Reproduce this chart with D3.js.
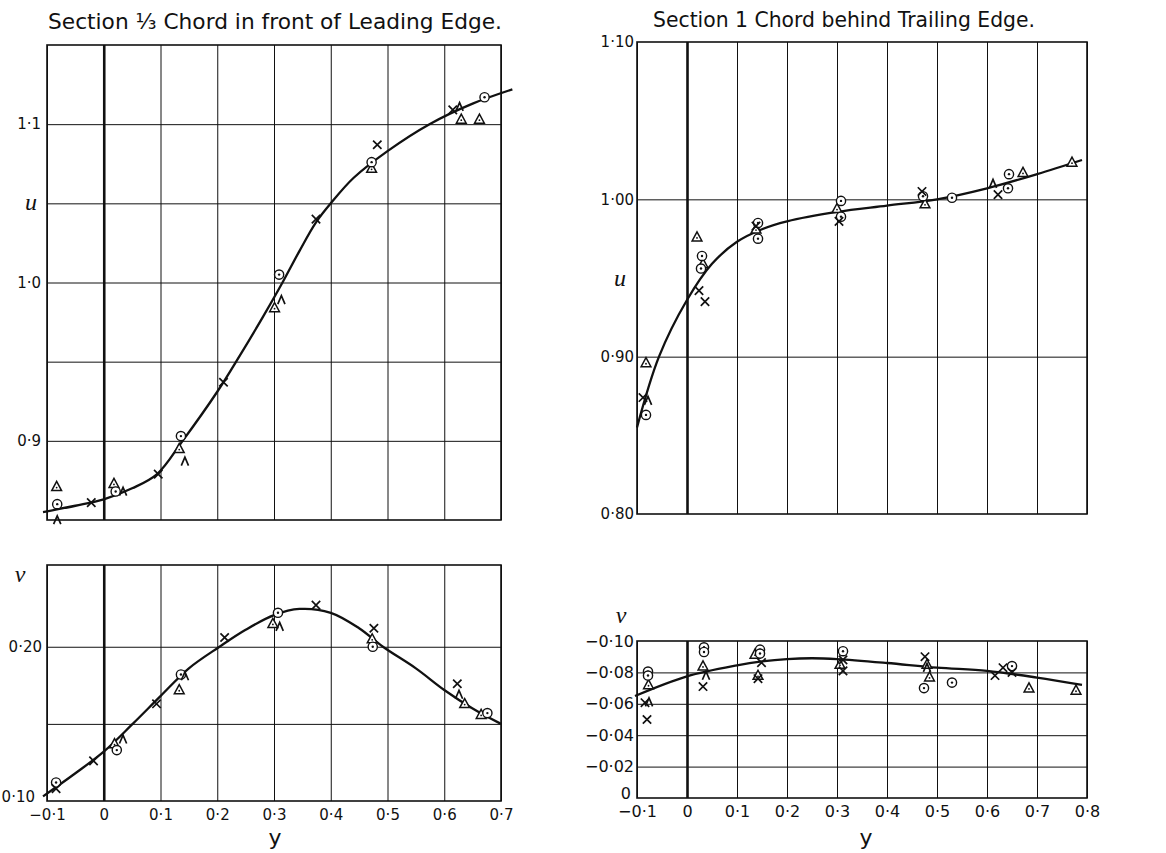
<!DOCTYPE html>
<html>
<head>
<meta charset="utf-8">
<script src="https://cdn.jsdelivr.net/npm/d3@7"></script>
<style>
body { margin: 0; background: #fff; }
svg { display: block; }
text { font-family: "DejaVu Sans", sans-serif; fill: #111; }
</style>
</head>
<body>
<div id="chart"></div>
<script>
// ---- data ----
const xTicksLeft = [-0.1, 0, 0.1, 0.2, 0.3, 0.4, 0.5, 0.6, 0.7];
const xTicksRight = [-0.1, 0, 0.1, 0.2, 0.3, 0.4, 0.5, 0.6, 0.7, 0.8];

// left: 1/3 chord in front of leading edge, u
const luTickLabels = [0.9, 1.0, 1.1];
const luGrid = [0.9, 0.95, 1.0, 1.05, 1.1];
const luCurve = [[-0.107,0.855],[-0.05,0.859],[0,0.863],[0.05,0.870],[0.094,0.879],[0.139,0.900],[0.2,0.931],[0.24,0.954],[0.28,0.978],[0.315,1.0],[0.345,1.02],[0.374,1.038],[0.4,1.05],[0.44,1.066],[0.5,1.083],[0.574,1.10],[0.65,1.113],[0.72,1.122]];
const luCircle = [[-0.082,0.860],[0.021,0.868],[0.136,0.903],[0.309,1.005],[0.472,1.076],[0.671,1.117]];
const luTri = [[-0.083,0.871],[0.018,0.873],[0.133,0.895],[0.301,0.984],[0.472,1.072],[0.630,1.103],[0.662,1.103]];
const luCross = [[-0.022,0.861],[0.096,0.879],[0.211,0.937],[0.374,1.040],[0.482,1.087],[0.615,1.109]];
const luCaret = [[-0.082,0.850],[0.034,0.868],[0.143,0.887],[0.313,0.989],[0.627,1.111]];

// left: v
const lvTickLabels = [0.10, 0.20];
const lvGrid = [0.15, 0.20];
const lvCurve = [[-0.107,0.103],[-0.05,0.118],[0,0.132],[0.051,0.150],[0.1,0.168],[0.15,0.186],[0.204,0.200],[0.25,0.211],[0.3,0.2205],[0.345,0.2245],[0.4,0.222],[0.45,0.212],[0.492,0.200],[0.55,0.186],[0.6,0.172],[0.65,0.160],[0.70,0.150]];
const lvCircle = [[-0.084,0.112],[0.023,0.133],[0.136,0.182],[0.307,0.222],[0.474,0.200],[0.676,0.157]];
const lvTri = [[0.019,0.137],[0.133,0.172],[0.298,0.215],[0.473,0.205],[0.636,0.163],[0.665,0.156]];
const lvCross = [[-0.084,0.108],[-0.018,0.126],[0.093,0.163],[0.213,0.206],[0.374,0.227],[0.476,0.212],[0.623,0.176]];
const lvCaret = [[0.034,0.140],[0.143,0.181],[0.310,0.213],[0.626,0.169]];

// right: 1 chord behind trailing edge, u
const ruTickLabels = [0.8, 0.9, 1.0, 1.1];
const ruGrid = [0.9, 1.0];
const ruCurve = [[-0.1,0.855],[-0.056,0.900],[0,0.936],[0.05,0.959],[0.1,0.973],[0.15,0.981],[0.2,0.986],[0.3,0.992],[0.4,0.996],[0.5,1.0],[0.6,1.007],[0.7,1.016],[0.79,1.025]];
const ruCircle = [[0.030,0.964],[0.028,0.956],[-0.082,0.863],[0.142,0.985],[0.142,0.975],[0.308,0.999],[0.308,0.989],[0.472,1.002],[0.53,1.001],[0.644,1.016],[0.642,1.007]];
const ruTri = [[0.020,0.976],[0.032,0.959],[-0.082,0.896],[0.138,0.981],[0.300,0.994],[0.476,0.997],[0.672,1.017],[0.770,1.0235]];
const ruCross = [[0.024,0.942],[0.036,0.935],[-0.088,0.874],[0.138,0.983],[0.304,0.986],[0.47,1.005],[0.622,1.003]];
const ruCaret = [[-0.078,0.872],[0.612,1.010]];

// right: v (negative)
const rvTickLabels = [0, -0.02, -0.04, -0.06, -0.08, -0.10];
const rvGrid = [-0.02, -0.04, -0.06, -0.08];
const rvCurve = [[-0.104,-0.065],[0,-0.0775],[0.1,-0.0845],[0.15,-0.0870],[0.2,-0.0885],[0.25,-0.089],[0.3,-0.0885],[0.4,-0.086],[0.5,-0.083],[0.6,-0.081],[0.7,-0.0767],[0.79,-0.072]];
const rvCircle = [[-0.078,-0.0805],[-0.078,-0.078],[0.034,-0.096],[0.034,-0.093],[0.146,-0.0945],[0.146,-0.092],[0.312,-0.0935],[0.474,-0.070],[0.53,-0.0735],[0.65,-0.084]];
const rvTri = [[-0.077,-0.072],[0.032,-0.084],[0.136,-0.0915],[0.142,-0.078],[0.306,-0.085],[0.48,-0.085],[0.485,-0.077],[0.684,-0.070],[0.778,-0.0685]];
const rvCross = [[-0.084,-0.0607],[-0.08,-0.050],[0.032,-0.071],[0.149,-0.0862],[0.142,-0.076],[0.312,-0.088],[0.312,-0.081],[0.476,-0.090],[0.616,-0.078],[0.632,-0.083],[0.65,-0.080]];
const rvCaret = [[-0.076,-0.061],[0.038,-0.078],[0.48,-0.083]];

const width = 1166, height = 853;
const ink = "#111";

const svg = d3.select("#chart").append("svg")
    .attr("width", width)
    .attr("height", height);

function fmt(digits) {
    return d => {
        if (d === 0) return "0";
        const s = Math.abs(d).toFixed(digits).replace(".", "·");
        return (d < 0 ? "−" : "") + s;
    };
}

function drawMarkers(g, pts, type, x, y) {
    const m = g.selectAll(null)
        .data(pts)
        .enter().append("g")
        .attr("transform", d => `translate(${x(d[0])},${y(d[1])})`);
    if (type === "circle") {
        m.append("circle").attr("r", 4.6)
            .attr("fill", "#fff").attr("stroke", ink).attr("stroke-width", 1.4);
        m.append("circle").attr("r", 1.2).attr("fill", ink);
    } else if (type === "tri") {
        m.append("path").attr("d", "M0,-5.3L4.9,3.8L-4.9,3.8Z")
            .attr("fill", "#fff").attr("stroke", ink).attr("stroke-width", 1.5);
        m.append("circle").attr("r", 0.9).attr("cy", 0.8).attr("fill", ink);
    } else if (type === "cross") {
        m.append("path").attr("d", "M-4.2,-4.2L4.2,4.2M4.2,-4.2L-4.2,4.2")
            .attr("stroke", ink).attr("stroke-width", 1.7);
    } else {
        m.append("path").attr("d", "M-3.6,4.2L0,-4.2L3.6,4.2")
            .attr("fill", "none").attr("stroke", ink).attr("stroke-width", 1.7);
    }
}

function panel(cfg) {
    const x = d3.scaleLinear().domain(cfg.xDomain).range([cfg.left, cfg.right]);
    const y = d3.scaleLinear().domain(cfg.yDomain).range([cfg.bottom, cfg.top]);
    const h = cfg.bottom - cfg.top, w = cfg.right - cfg.left;
    const g = svg.append("g");

    // vertical grid
    g.append("g")
        .attr("transform", `translate(0,${cfg.bottom})`)
        .call(d3.axisBottom(x).tickValues(cfg.xTicks).tickSize(-h).tickFormat(""))
        .call(a => a.select(".domain").remove())
        .call(a => a.selectAll("line")
            .attr("stroke", ink)
            .attr("stroke-width", d => d === 0 ? 2.6 : 1));

    // horizontal grid
    g.append("g")
        .attr("transform", `translate(${cfg.left},0)`)
        .call(d3.axisLeft(y).tickValues(cfg.grid).tickSize(-w).tickFormat(""))
        .call(a => a.select(".domain").remove())
        .call(a => a.selectAll("line").attr("stroke", ink).attr("stroke-width", 1));

    g.append("rect")
        .attr("x", cfg.left).attr("y", cfg.top)
        .attr("width", w).attr("height", h)
        .attr("fill", "none").attr("stroke", ink).attr("stroke-width", 1.6);

    // tick labels
    if (cfg.xLabels) {
        g.append("g")
            .attr("transform", `translate(0,${cfg.bottom})`)
            .call(d3.axisBottom(x).tickValues(cfg.xTicks).tickSize(0).tickPadding(8).tickFormat(fmt(1)))
            .call(a => a.select(".domain").remove())
            .call(a => a.selectAll("text")
                .style("font-size", cfg.fontSize + "px"));
    }
    g.append("g")
        .attr("transform", `translate(${cfg.left},0)`)
        .call(d3.axisLeft(y).tickValues(cfg.yTicks).tickSize(0).tickPadding(cfg.yPad).tickFormat(fmt(cfg.yDigits)))
        .call(a => a.select(".domain").remove())
        .call(a => a.selectAll("text")
            .style("font-size", cfg.fontSize + "px")
            // lowest label sits a little high so it clears the x labels
            .attr("dy", d => (cfg.xLabels && d === cfg.yDomain[0]) ? "0.05em" : "0.32em")
            .attr("x", d => (cfg.xLabels && d === cfg.yDomain[0]) ? -cfg.yPad - cfg.lowShift : -cfg.yPad));

    // fitted curve
    const line = d3.line()
        .x(d => x(d[0]))
        .y(d => y(d[1]))
        .curve(d3.curveCatmullRom.alpha(0.5));
    g.append("path")
        .datum(cfg.curve)
        .attr("d", line)
        .attr("fill", "none")
        .attr("stroke", ink)
        .attr("stroke-width", 2.3);

    drawMarkers(g, cfg.tri, "tri", x, y);
    drawMarkers(g, cfg.circle, "circle", x, y);
    drawMarkers(g, cfg.cross, "cross", x, y);
    drawMarkers(g, cfg.caret, "caret", x, y);

    // variable label
    g.append("text")
        .attr("x", cfg.varX).attr("y", cfg.varY)
        .attr("text-anchor", "middle")
        .style("font-family", "'Liberation Serif', serif")
        .style("font-style", "italic")
        .style("font-size", "24px")
        .text(cfg.varName);

    return { x, y };
}

panel({
    left: 47, right: 501, top: 45, bottom: 520,
    xDomain: [-0.1, 0.7], yDomain: [0.85, 1.15],
    xTicks: xTicksLeft, grid: luGrid, yTicks: luTickLabels, yDigits: 1, yPad: 6,
    fontSize: 15, curve: luCurve,
    circle: luCircle, tri: luTri, cross: luCross, caret: luCaret,
    varName: "u", varX: 31, varY: 210
});

panel({
    left: 47, right: 501, top: 565, bottom: 801,
    xDomain: [-0.1, 0.7], yDomain: [0.10, 0.253],
    xTicks: xTicksLeft, grid: lvGrid, yTicks: lvTickLabels, yDigits: 2, yPad: 5,
    xLabels: true, lowShift: 7, fontSize: 15, curve: lvCurve,
    circle: lvCircle, tri: lvTri, cross: lvCross, caret: lvCaret,
    varName: "v", varX: 20, varY: 582
});

panel({
    left: 637, right: 1087, top: 42, bottom: 514,
    xDomain: [-0.1, 0.8], yDomain: [0.80, 1.10],
    xTicks: xTicksRight, grid: ruGrid, yTicks: ruTickLabels, yDigits: 2, yPad: 3,
    fontSize: 15, curve: ruCurve,
    circle: ruCircle, tri: ruTri, cross: ruCross, caret: ruCaret,
    varName: "u", varX: 620, varY: 286
});

panel({
    left: 637, right: 1087, top: 641, bottom: 798,
    xDomain: [-0.1, 0.8], yDomain: [0, -0.10],
    xTicks: xTicksRight, grid: rvGrid, yTicks: rvTickLabels, yDigits: 2, yPad: 3,
    xLabels: true, lowShift: 3, fontSize: 16, curve: rvCurve,
    circle: rvCircle, tri: rvTri, cross: rvCross, caret: rvCaret,
    varName: "v", varX: 621, varY: 623
});

// titles and y axis names
svg.append("text")
    .attr("x", 48).attr("y", 29)
    .attr("textLength", 454).attr("lengthAdjust", "spacingAndGlyphs")
    .style("font-size", "21px")
    .text("Section ⅓ Chord in front of Leading Edge.");

svg.append("text")
    .attr("x", 653).attr("y", 27)
    .attr("textLength", 382).attr("lengthAdjust", "spacingAndGlyphs")
    .style("font-size", "21px")
    .text("Section 1 Chord behind Trailing Edge.");

svg.append("text")
    .attr("x", 275).attr("y", 845)
    .attr("text-anchor", "middle")
    .style("font-size", "22px")
    .text("y");

svg.append("text")
    .attr("x", 866).attr("y", 845)
    .attr("text-anchor", "middle")
    .style("font-size", "22px")
    .text("y");
</script>
</body>
</html>
